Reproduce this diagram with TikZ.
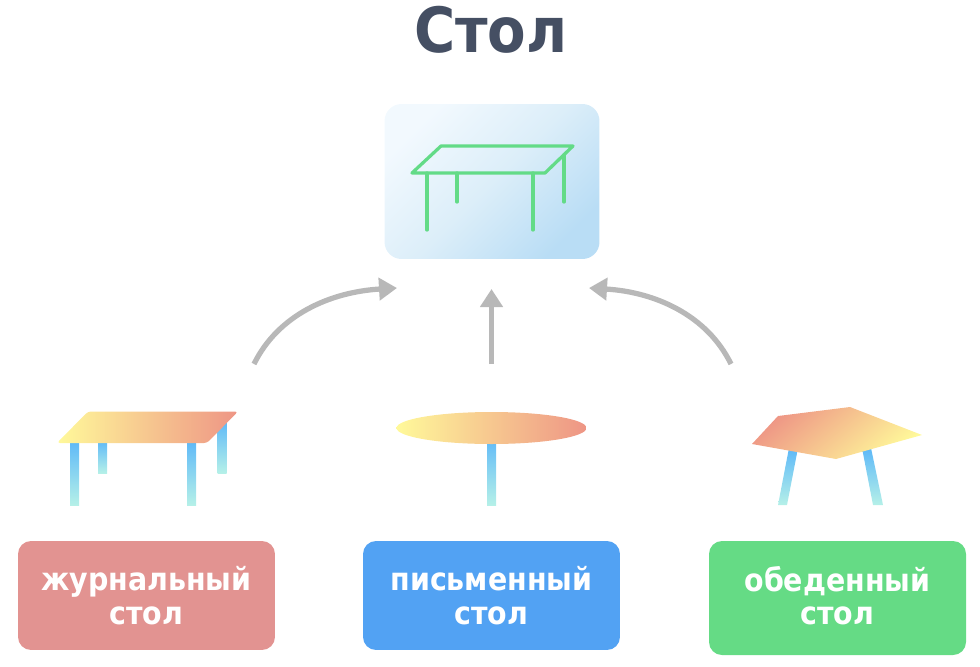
\documentclass[tikz,border=0pt]{standalone}
\usepackage{fontspec}
\setmainfont{DejaVu Sans Condensed}
\usetikzlibrary{arrows.meta}
\definecolor{titlecol}{HTML}{454F63}
\definecolor{linecol}{HTML}{63DB87}
\definecolor{arrowcol}{HTML}{B8B8B8}
\definecolor{legtop}{HTML}{5DB8F8}
\definecolor{legend}{HTML}{B5F0E8}
\definecolor{topyellow}{HTML}{FFF99A}
\definecolor{topred}{HTML}{EE9585}
\definecolor{iconstart}{HTML}{F2F9FE}
\definecolor{iconmid}{HTML}{DCEEF9}
\definecolor{iconend}{HTML}{B9DDF5}
\definecolor{pinkcol}{HTML}{E29391}
\definecolor{bluecol}{HTML}{52A2F3}
\definecolor{greencol}{HTML}{65DB85}
\tikzset{
  tablearrow/.style={draw=arrowcol,line width=0.105cm,-{Triangle[length=0.36cm,width=0.44cm]}},
  tableline/.style={draw=linecol,line width=0.065cm,line cap=round,line join=round},
  tableleg/.style={top color=legtop,bottom color=legend},
  labelbox/.style={rounded corners=0.26cm,minimum width=5.14cm,text=white,
    font=\fontsize{18}{19}\selectfont\bfseries,align=center,inner sep=0pt},
}
\begin{document}
\begin{tikzpicture}[x=0.02cm,y=-0.02cm]
    \useasboundingbox (0,0) rectangle (980,666);
    % Title
    \node[text=titlecol,font=\fontsize{35.5}{42}\selectfont\bfseries] (title) at (491,30) {Стол};
    % Icon box with the plain table
    \node[rounded corners=0.34cm,minimum width=4.3cm,minimum height=3.1cm,inner sep=0pt,
      left color=iconstart,right color=iconend,middle color=iconmid,shading angle=45] (icon) at (492,181.5) {};
    \draw[tableline] (412,173) -- (441,146) -- (573,146) -- (545,173) -- cycle;
    \draw[tableline] (427,173) -- (427,230);
    \draw[tableline] (457,173) -- (457,202);
    \draw[tableline] (533,173) -- (533,230);
    \draw[tableline] (564,155) -- (564,202);
    % Arrows
    \coordinate (leftstart) at (254,364);
    \coordinate (leftend) at (397,288);
    \coordinate (midstart) at (491.5,364);
    \coordinate (midend) at (491.5,289);
    \coordinate (rightstart) at (731,364);
    \coordinate (rightend) at (589,288);
    \draw[tablearrow] (leftstart) .. controls (278,315) and (330,292) .. (leftend);
    \draw[tablearrow] (midstart) -- (midend);
    \draw[tablearrow] (rightstart) .. controls (707,315) and (655,292) .. (rightend);
    % First table
    \path[tableleg] (98,440) rectangle (107,473);
    \path[tableleg] (217.5,420) rectangle (226.5,473);
    \path[tableleg] (70,440) rectangle (79,505);
    \path[tableleg] (187,440) rectangle (196,505);
    \path[left color=topyellow,right color=topred,rounded corners=0.06cm]
      (57,443) -- (88,411.5) -- (238,411.5) -- (207,443) -- cycle;
    % Second table
    \path[tableleg] (487,436) rectangle (496,505);
    \path[left color=topyellow,right color=topred] (491.5,428) ellipse [x radius=95,y radius=16];
    % Third table
    \path[tableleg] (789,448) -- (798,448) -- (787,505) -- (778,505) -- cycle;
    \path[tableleg] (862,448) -- (871,448) -- (883,505) -- (873,505) -- cycle;
    \path[left color=topred,right color=topyellow,shading angle=40]
      (752,444) -- (778,416) -- (850,407) -- (922,435) -- (836,459) -- cycle;
    % Labels
    \node[labelbox,fill=pinkcol,minimum height=2.18cm] (coffee) at (146.5,595.5) {журнальный\\стол};
    \node[labelbox,fill=bluecol,minimum height=2.18cm] (desk) at (491.5,595.5) {письменный\\стол};
    \fill[greencol,rounded corners=0.26cm] (709,541) rectangle (966,655);
    \node[labelbox] (dining) at (837.5,595.5) {обеденный\\стол};
\end{tikzpicture}
\end{document}
